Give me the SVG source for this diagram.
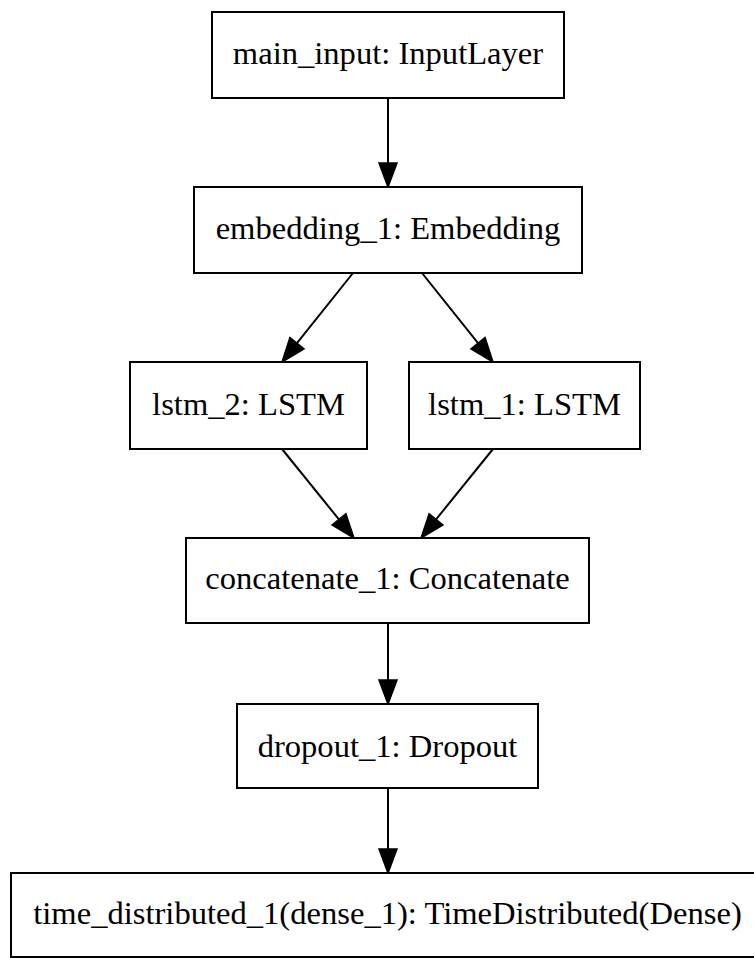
<svg xmlns="http://www.w3.org/2000/svg" width="754" height="958" viewBox="0 0 754 958">
<style>
.box{fill:#fff;stroke:#000;stroke-width:2}
.lbl{font-family:"Liberation Serif","Times New Roman",serif;font-size:32.6px;fill:#000;text-anchor:middle}
.edge line{stroke:#000;stroke-width:2}
.edge polygon{fill:#000;stroke:#000;stroke-width:1.5;stroke-linejoin:miter}
</style>
<rect width="754" height="958" fill="#fff"/>
<g id="connectors" class="edge">
<line x1="388" y1="98" x2="388" y2="163"/>
<polygon points="379,163 397,163 388,187"/>
<line x1="353" y1="273" x2="296.97" y2="343.23"/>
<polygon points="304,348.85 289.93,337.61 282,362"/>
<line x1="422" y1="273" x2="478.03" y2="343.23"/>
<polygon points="470.99,348.85 485.07,337.61 493,362"/>
<line x1="282" y1="449" x2="338.91" y2="519.35"/>
<polygon points="331.92,525.01 345.9,513.69 354,538"/>
<line x1="493" y1="449" x2="436.09" y2="519.35"/>
<polygon points="443.08,525.01 429.1,513.69 421,538"/>
<line x1="388" y1="623" x2="388" y2="680"/>
<polygon points="379,680 397,680 388,704"/>
<line x1="388" y1="788" x2="388" y2="849"/>
<polygon points="379,849 397,849 388,873"/>
</g>
<g id="main_input">
<rect class="box" x="212" y="12" width="352" height="86"/>
<text class="lbl" x="388" y="64">main_input: InputLayer</text>
</g>
<g id="embedding_1">
<rect class="box" x="194" y="187" width="388" height="86"/>
<text class="lbl" x="388" y="239">embedding_1: Embedding</text>
</g>
<g id="lstm_2">
<rect class="box" x="130" y="362" width="237" height="87"/>
<text class="lbl" x="248.5" y="415">lstm_2: LSTM</text>
</g>
<g id="lstm_1">
<rect class="box" x="409" y="362" width="231" height="87"/>
<text class="lbl" x="524.5" y="415">lstm_1: LSTM</text>
</g>
<g id="concatenate_1">
<rect class="box" x="186" y="538" width="403" height="85"/>
<text class="lbl" x="387.5" y="589">concatenate_1: Concatenate</text>
</g>
<g id="dropout_1">
<rect class="box" x="237" y="704" width="301" height="84"/>
<text class="lbl" x="387.5" y="757">dropout_1: Dropout</text>
</g>
<g id="time_distributed_1">
<rect class="box" x="11" y="873" width="754" height="84"/>
<text class="lbl" x="387.5" y="924">time_distributed_1(dense_1): TimeDistributed(Dense)</text>
</g>
</svg>
